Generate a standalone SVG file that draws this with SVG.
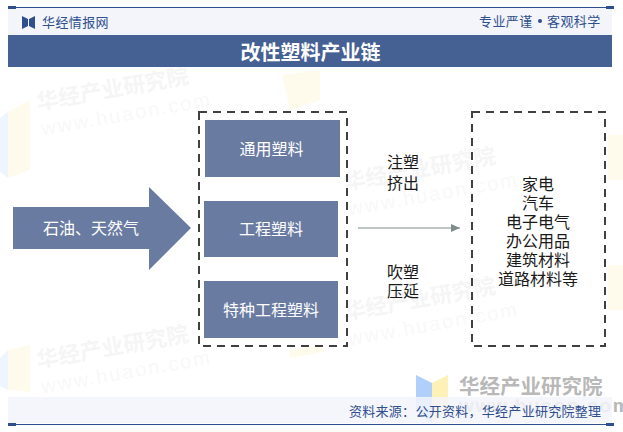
<svg xmlns="http://www.w3.org/2000/svg" width="623" height="432" viewBox="0 0 623 432">
<style>
text{font-family:"Noto Sans CJK SC","Liberation Sans",sans-serif}
.c{text-anchor:middle}
.w{fill:#fff;font-size:16px}
.k{fill:#1a1a1a;font-size:16px}
.b{fill:#2f4f8f;font-size:13px}
.box{fill:#6a7ba2}
.dash{fill:none;stroke:#404040;stroke-width:2;stroke-dasharray:8 6}
.wm1{fill:#000;opacity:.035;font-size:22px;font-weight:700}
.wm2{fill:#000;opacity:.025;font-size:20px;letter-spacing:2px;font-family:"Liberation Sans",sans-serif}
.wy{fill:#fdf3c4;opacity:.3}
.wb{fill:#b0cffb;opacity:.2}
</style>
<defs>
<marker id="ah" markerWidth="9" markerHeight="8" refX="9" refY="4" orient="auto" markerUnits="userSpaceOnUse"><path d="M0 0L9 4L0 8Z" fill="#7f8c8c"/></marker>
<g id="mark">
<text class="wm1" x="0" y="0" transform="rotate(-10)">华经产业研究院</text>
<text class="wm2" x="0" y="26" transform="rotate(-10)">www.huaon.com</text>
</g>
</defs>
<rect width="623" height="432" fill="#fff"/>
<g id="watermarks">
<use href="#mark" x="38" y="110"/>
<use href="#mark" x="345" y="190"/>
<use href="#mark" x="38" y="368"/>
<use href="#mark" x="345" y="320"/>
<path class="wy" d="M8 112L30 100V170L8 178Z"/><path class="wb" d="M0 118L8 112V178L0 172Z"/>
<path class="wy" d="M8 350L30 345V392L8 390Z"/><path class="wb" d="M0 358L8 350V390L0 386Z"/>
<path class="wy" d="M282 75L320 70V100L290 110Z"/>
<path class="wy" d="M608 135H623V180H608Z"/><path class="wy" d="M608 265H623V310H608Z"/>
<path class="wy" d="M290 350L320 345L325 352L290 358Z"/>
</g>
<g id="brand-mark">
<path d="M416 375L432 383V423L416 410Z" fill="#b0cffb"/>
<path d="M448 375L432 383V423L448 410Z" fill="#fdf1b8"/>
<text x="459" y="394" font-size="20.5px" font-weight="700" fill="#b8b8b8">华经产业研究院</text>
<text x="459" y="412" font-size="19px" font-weight="700" letter-spacing="1.7" fill="#b8b8b8" style="font-family:'Liberation Sans',sans-serif">www.huaon.com</text>
</g>
<g id="header">
<rect x="8" y="8" width="604" height="27" fill="#f3f5fa"/>
<rect x="8" y="7" width="606" height="1" fill="#2f4f8f"/>
<rect x="8" y="6" width="8" height="3" fill="#2f4f8f"/>
<rect x="606" y="6" width="8" height="3" fill="#2f4f8f"/>
<path d="M22 16L28 19V26L22 29ZM35 16L29 19V26L35 29Z" fill="#2f4f8f"/>
<text class="b" x="42" y="27" style="letter-spacing:.4px">华经情报网</text>
<text class="b" x="479" y="26" style="letter-spacing:.4px">专业严谨</text>
<circle cx="540" cy="21" r="2" fill="#2f4f8f"/>
<text class="b" x="547" y="26" style="letter-spacing:.4px">客观科学</text>
<rect x="8" y="35" width="604" height="32" fill="#456093"/>
<text class="c" x="310.500" y="60" fill="#fff" font-size="20px" font-weight="700">改性塑料产业链</text>
</g>
<g id="footer">
<rect x="8" y="397" width="604" height="26" fill="#f3f5fa" opacity=".85"/>
<rect x="8" y="424" width="606" height="1" fill="#2f4f8f"/>
<rect x="8" y="423" width="8" height="3" fill="#2f4f8f"/>
<rect x="606" y="423" width="8" height="3" fill="#2f4f8f"/>
<text class="b" x="349" y="416" style="letter-spacing:.28px">资料来源：公开资料，华经产业研究院整理</text>
</g>
<g id="connectors">
<line x1="358" y1="228" x2="460" y2="228" stroke="#7f8c8c" stroke-width="1" marker-end="url(#ah)"/>
</g>
<g id="feedstock">
<path class="box" d="M13 207H149V187L191 228L149 270V249H13Z"/>
<text class="c w" x="91" y="234">石油、天然气</text>
</g>
<g id="plastics-group"><rect class="dash" x="199" y="112" width="148" height="234"/></g>
<g id="general-plastics"><rect class="box" x="205" y="120" width="135" height="57"/><text class="c w" x="271.500" y="155">通用塑料</text></g>
<g id="engineering-plastics"><rect class="box" x="204" y="201" width="134" height="56"/><text class="c w" x="271" y="235">工程塑料</text></g>
<g id="special-plastics"><rect class="box" x="204" y="281" width="134" height="57"/><text class="c w" x="271" y="316">特种工程塑料</text></g>
<g id="process-top"><text class="c k" x="403" y="168">注塑</text><text class="c k" x="403" y="189">挤出</text></g>
<g id="process-bottom"><text class="c k" x="403" y="278">吹塑</text><text class="c k" x="403" y="297">压延</text></g>
<g id="applications">
<rect class="dash" x="472" y="112" width="133" height="234"/>
<text class="c k" x="538" y="190">家电</text>
<text class="c k" x="538" y="209">汽车</text>
<text class="c k" x="538" y="228">电子电气</text>
<text class="c k" x="538" y="247">办公用品</text>
<text class="c k" x="538" y="266">建筑材料</text>
<text class="c k" x="538" y="285">道路材料等</text>
</g>
</svg>
